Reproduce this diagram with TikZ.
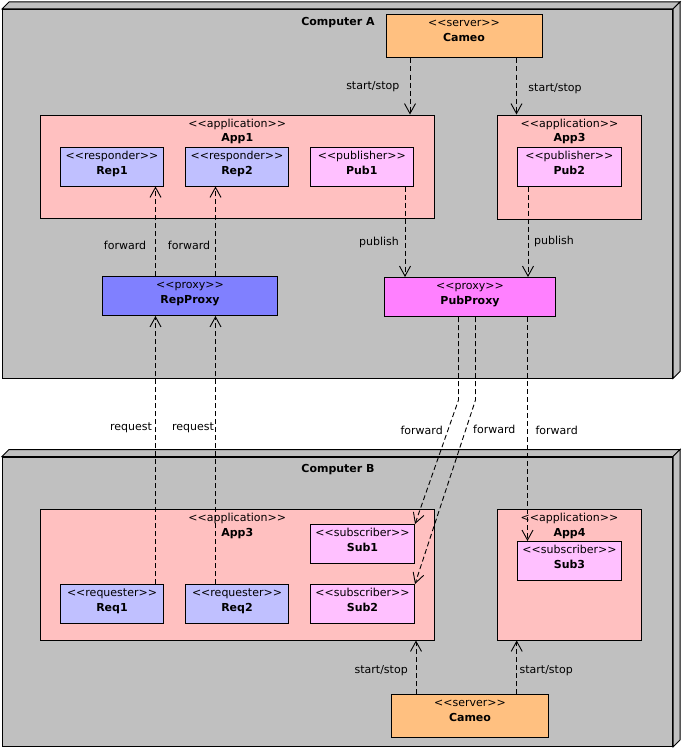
\documentclass[tikz,border=0pt]{standalone}
\usepackage{fontspec}
\newfontfamily\uf{DejaVu Sans}
\usetikzlibrary{arrows.meta,fit,calc}
\definecolor{nodegray}{HTML}{C0C0C0}
\definecolor{appc}{HTML}{FFC0C0}
\definecolor{repc}{HTML}{C0C0FF}
\definecolor{pubc}{HTML}{FFC0FF}
\definecolor{repproxyc}{HTML}{8080FF}
\definecolor{pubproxyc}{HTML}{FF80FF}
\definecolor{cameoc}{HTML}{FFC080}
\newcommand\umltext[3]{%
  \node[anchor=base] (#1-st) at ([yshift=-12.5pt]#1.north) {<<#2>>};
  \node[anchor=base, nm] (#1-nm) at ([yshift=-27pt]#1.north) {#3};}
\begin{document}
\begin{tikzpicture}[x=1pt,y=-1pt,
  every node/.style={font=\uf\fontsize{11}{13}\selectfont, inner sep=0pt},
  nm/.style={font=\uf\bfseries\fontsize{11}{13}\selectfont},
  box/.style={draw=black, line width=1pt, inner sep=0pt},
  face/.style={draw=black, line width=1pt, fill=nodegray, line join=miter},
  dep/.style={draw=black, line width=0.9pt, dash pattern=on 5pt off 3pt,
    -{Straight Barb[length=10pt,width=11pt,line width=0.9pt]}},
  lbl/.style={anchor=base}]
\useasboundingbox (0,0) rectangle (685,752);
% ---- Computer A
\node[box, fill=nodegray, fit={(2.5,9.5) (672.5,378)}] (compA) {};
\path[face] (compA.north west) -- ++(7,-7) -- ([shift={(7,-7)}]compA.north east) -- (compA.north east) -- cycle;
\path[face] (compA.north east) -- ++(7,-7) -- ([shift={(7,-7)}]compA.south east) -- (compA.south east) -- cycle;
\node[anchor=base, nm] (compA-lbl) at (338,25.5) {Computer A};
% ---- Computer B
\node[box, fill=nodegray, fit={(2.5,457) (672.5,746.5)}] (compB) {};
\path[face] (compB.north west) -- ++(7,-7) -- ([shift={(7,-7)}]compB.north east) -- (compB.north east) -- cycle;
\path[face] (compB.north east) -- ++(7,-7) -- ([shift={(7,-7)}]compB.south east) -- (compB.south east) -- cycle;
\node[anchor=base, nm] (compB-lbl) at (338,472.3) {Computer B};
% ---- boxes in A
\node[box, fill=cameoc, fit={(386,15) (542,58)}] (cameoA) {};
\umltext{cameoA}{server}{Cameo}
\node[box, fill=appc, fit={(40.5,115) (434,218.5)}] (app1) {};
\umltext{app1}{application}{App1}
\node[box, fill=repc, fit={(60.5,147.5) (163.5,186)}] (rep1) {};
\umltext{rep1}{responder}{Rep1}
\node[box, fill=repc, fit={(185.5,147.5) (288.5,186)}] (rep2) {};
\umltext{rep2}{responder}{Rep2}
\node[box, fill=pubc, fit={(310,147.5) (413.5,186)}] (pub1) {};
\umltext{pub1}{publisher}{Pub1}
\node[box, fill=appc, fit={(497.5,115) (641.5,219)}] (app3a) {};
\umltext{app3a}{application}{App3}
\node[box, fill=pubc, fit={(517.5,147.5) (621,186)}] (pub2) {};
\umltext{pub2}{publisher}{Pub2}
\node[box, fill=repproxyc, fit={(102.5,276.5) (277.5,315.5)}] (repproxy) {};
\umltext{repproxy}{proxy}{RepProxy}
\node[box, fill=pubproxyc, fit={(384.5,277.5) (555.5,316.5)}] (pubproxy) {};
\umltext{pubproxy}{proxy}{PubProxy}
% ---- boxes in B
\node[box, fill=appc, fit={(40.5,509.5) (434,640)}] (app3b) {};
\umltext{app3b}{application}{App3}
\node[box, fill=pubc, fit={(310.5,524.5) (414.5,563.5)}] (sub1) {};
\umltext{sub1}{subscriber}{Sub1}
\node[box, fill=pubc, fit={(310.5,584.5) (414.5,623.5)}] (sub2) {};
\umltext{sub2}{subscriber}{Sub2}
\node[box, fill=repc, fit={(60.5,584.5) (163.5,623.5)}] (req1) {};
\umltext{req1}{requester}{Req1}
\node[box, fill=repc, fit={(185.5,584.5) (288.5,623.5)}] (req2) {};
\umltext{req2}{requester}{Req2}
\node[box, fill=appc, fit={(497.5,509.5) (641.5,640)}] (app4) {};
\umltext{app4}{application}{App4}
\node[box, fill=pubc, fit={(517.5,541.5) (621.5,580.5)}] (sub3) {};
\umltext{sub3}{subscriber}{Sub3}
\node[box, fill=cameoc, fit={(391.5,694.5) (548.5,737.5)}] (cameoB) {};
\umltext{cameoB}{server}{Cameo}
% ---- x positions of connectors
\coordinate (xr1) at (155.5,0);
\coordinate (xr2) at (215.5,0);
\coordinate (xc1) at (410,0);
\coordinate (xc2) at (516.5,0);
\coordinate (xp1) at (405,0);
\coordinate (xp2) at (528,0);
\coordinate (xf1) at (458.5,0);
\coordinate (xf2) at (475.5,0);
\coordinate (xf3) at (527.5,0);
\coordinate (xb1) at (416,0);
\coordinate (xb2) at (516.7,0);
\coordinate (bend1) at (458.5,400);
\coordinate (bend2) at (475.5,400);
% ---- connectors in A
\draw[dep] (cameoA.south -| xc1) -- (app1.north -| xc1);
\draw[dep] (cameoA.south -| xc2) -- (app3a.north -| xc2);
\draw[dep] (pub1.south -| xp1) -- (pubproxy.north -| xp1);
\draw[dep] (pub2.south -| xp2) -- (pubproxy.north -| xp2);
\draw[dep] (repproxy.north -| xr1) -- (rep1.south -| xr1);
\draw[dep] (repproxy.north -| xr2) -- (rep2.south -| xr2);
% ---- connectors between A and B
\draw[dep] (req1.north -| xr1) -- (repproxy.south -| xr1);
\draw[dep] (req2.north -| xr2) -- (repproxy.south -| xr2);
\draw[dep] (pubproxy.south -| xf1) -- (bend1) -- (sub1.north east);
\draw[dep] (pubproxy.south -| xf2) -- (bend2) -- (sub2.north east);
\draw[dep] (pubproxy.south -| xf3) -- (sub3.north -| xf3);
% ---- connectors in B
\draw[dep] (cameoB.north -| xb1) -- (app3b.south -| xb1);
\draw[dep] (cameoB.north -| xb2) -- (app4.south -| xb2);
% ---- labels
\node[lbl] (l1) at (372.8,89.7) {start/stop};
\node[lbl] (l2) at (555,91.7) {start/stop};
\node[lbl] (l3) at (379,245.7) {publish};
\node[lbl] (l4) at (554,244.7) {publish};
\node[lbl] (l5) at (125,249.7) {forward};
\node[lbl] (l6) at (189,249.7) {forward};
\node[lbl] (l7) at (131,430.7) {request};
\node[lbl] (l8) at (193,430.7) {request};
\node[lbl] (l9) at (421.7,434.7) {forward};
\node[lbl] (l10) at (494.3,433.7) {forward};
\node[lbl] (l11) at (556.7,434.7) {forward};
\node[lbl] (l12) at (381.2,673) {start/stop};
\node[lbl] (l13) at (546.2,673.7) {start/stop};
\end{tikzpicture}
\end{document}
